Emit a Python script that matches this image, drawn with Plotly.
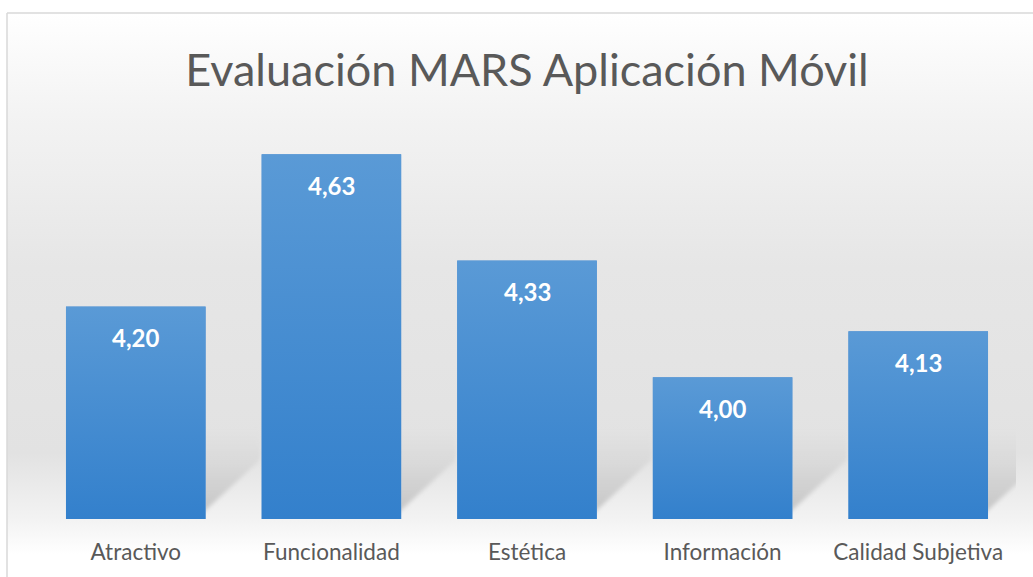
import base64
import plotly.graph_objects as go

# Puntuaciones medias MARS por dimensión
categorias = ["Atractivo", "Funcionalidad", "Estética", "Información", "Calidad Subjetiva"]
puntuaciones = [4.20, 4.63, 4.33, 4.00, 4.13]
titulo = "Evaluación MARS Aplicación Móvil"

y_min, y_max = 3.6, 4.8
ancho_barra = 0.714

FUENTE = "Lato, 'Open Sans', sans-serif"
GRIS_TEXTO = "#595959"


def svg_uri(svg):
    return "data:image/svg+xml;base64," + base64.b64encode(svg.encode()).decode()


# Degradado vertical de fondo (blanco arriba, gris al centro, blanco abajo)
fondo_svg = """<svg xmlns='http://www.w3.org/2000/svg' width='100' height='100' preserveAspectRatio='none'>
<defs><linearGradient id='g' x1='0' y1='0' x2='0' y2='1'>
<stop offset='0' stop-color='#ffffff'/>
<stop offset='0.18' stop-color='#f3f3f3'/>
<stop offset='0.45' stop-color='#e6e6e6'/>
<stop offset='0.78' stop-color='#e2e2e2'/>
<stop offset='0.90' stop-color='#f3f3f3'/>
<stop offset='0.96' stop-color='#ffffff'/>
<stop offset='1' stop-color='#ffffff'/>
</linearGradient></defs>
<rect width='100' height='100' fill='url(#g)'/></svg>"""

# Degradado de relleno de las barras
barra_svg = """<svg xmlns='http://www.w3.org/2000/svg' width='100' height='100' preserveAspectRatio='none'>
<defs><linearGradient id='b' x1='0' y1='0' x2='0' y2='1'>
<stop offset='0' stop-color='#5a9ad6'/>
<stop offset='1' stop-color='#3380cc'/>
</linearGradient></defs>
<rect width='100' height='100' fill='url(#b)'/></svg>"""

# Sombra difusa proyectada sobre el suelo, a la derecha de cada barra
sombra_svg = """<svg xmlns='http://www.w3.org/2000/svg' width='100' height='100' preserveAspectRatio='none'>
<defs>
<linearGradient id='s' x1='0' y1='1' x2='0' y2='0'>
<stop offset='0' stop-color='#b4b4b4' stop-opacity='0.75'/>
<stop offset='0.45' stop-color='#c4c4c4' stop-opacity='0.55'/>
<stop offset='1' stop-color='#d8d8d8' stop-opacity='0'/>
</linearGradient>
<filter id='f' x='-20%' y='-20%' width='140%' height='140%'>
<feGaussianBlur stdDeviation='3'/></filter>
</defs>
<polygon points='-10,100 -10,0 92,0 92,38' fill='url(#s)' filter='url(#f)'/></svg>"""

fig = go.Figure()

fig.add_trace(go.Bar(
    x=list(range(len(categorias))),
    y=[v - y_min for v in puntuaciones],
    base=y_min,
    marker=dict(color="#4a8dd2", line=dict(width=0)),
    width=ancho_barra,
    hoverinfo="skip",
))

imagenes = [dict(
    source=svg_uri(fondo_svg), xref="paper", yref="paper",
    x=-31 / 978, y=(577 - 13 - 58) / 425, sizex=2, sizey=(577 - 13) / 425,
    xanchor="left", yanchor="top", sizing="stretch", layer="below",
)]

for i, v in enumerate(puntuaciones):
    alto = v - y_min
    h_sombra = min(alto, 0.26)
    # sombra detrás de la barra
    imagenes.append(dict(
        source=svg_uri(sombra_svg), xref="x", yref="y",
        x=i + ancho_barra / 2, y=y_min + h_sombra,
        sizex=0.3, sizey=h_sombra - 0.01,
        xanchor="left", yanchor="top", sizing="stretch", layer="below",
    ))
    # relleno degradado de la barra
    imagenes.append(dict(
        source=svg_uri(barra_svg), xref="x", yref="y",
        x=i - ancho_barra / 2, y=v, sizex=ancho_barra, sizey=alto,
        xanchor="left", yanchor="top", sizing="stretch", layer="above",
    ))

anotaciones = [dict(
    x=i, y=v, xref="x", yref="y",
    text=f"{v:.2f}".replace(".", ","),
    showarrow=False, yanchor="middle", yshift=-31,
    font=dict(family=FUENTE, size=24, color="#ffffff", weight="bold"),
) for i, v in enumerate(puntuaciones)]

# Marco exterior del gráfico
marco = [
    dict(type="line", xref="paper", yref="paper",
         x0=-31 / 978, x1=2, y0=(577 - 13 - 58) / 425, y1=(577 - 13 - 58) / 425,
         line=dict(color="#d9d9d9", width=1.5)),
    dict(type="line", xref="paper", yref="paper",
         x0=-31 / 978, x1=-31 / 978, y0=-1, y1=(577 - 13 - 58) / 425,
         line=dict(color="#d9d9d9", width=1.5)),
]

fig.update_layout(
    width=1033, height=577,
    margin=dict(l=38, r=17, t=94, b=58),
    paper_bgcolor="#ffffff",
    plot_bgcolor="rgba(0,0,0,0)",
    showlegend=False,
    bargap=0.286,
    title=dict(
        text=titulo, x=0.5, xref="paper", xanchor="center",
        y=1 - 70 / 577, yref="container", yanchor="middle",
        font=dict(family=FUENTE, size=45, color=GRIS_TEXTO),
    ),
    xaxis=dict(
        tickmode="array", tickvals=list(range(len(categorias))), ticktext=categorias,
        range=[-0.5, len(categorias) - 0.5],
        showgrid=False, zeroline=False, showline=False,
        ticks="outside", ticklen=13, tickcolor="rgba(0,0,0,0)",
        tickfont=dict(family=FUENTE, size=22.5, color=GRIS_TEXTO),
    ),
    yaxis=dict(
        range=[y_min, y_max], visible=False, showgrid=False, zeroline=False,
    ),
    images=imagenes,
    annotations=anotaciones,
    shapes=marco,
)

fig.write_html("out.html")
